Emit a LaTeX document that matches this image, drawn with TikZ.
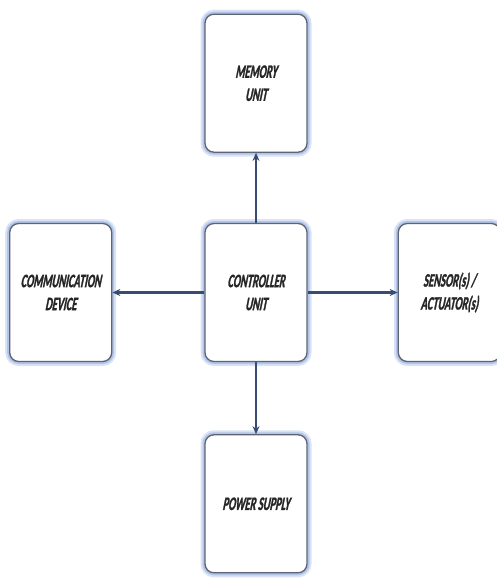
\documentclass[tikz,border=0pt]{standalone}
\usepackage{fontspec}
\newfontfamily\unitfont[FakeStretch=0.55,FakeBold=1.2,FakeSlant=0.2,UprightFont={* Bold}]{Carlito}
\usetikzlibrary{arrows.meta,positioning}

\definecolor{glow}{RGB}{150,175,225}
\definecolor{rim}{RGB}{95,100,115}
\definecolor{link}{RGB}{55,75,115}

\tikzset{
	unit/.style={draw=rim, line width=1.3pt, fill=white, rounded corners=9pt,
		minimum width=102pt, minimum height=138pt, align=center,
		font=\unitfont\fontsize{19}{23}\selectfont, text=black!85,
		preaction={draw=glow, line width=9pt, opacity=0.35},
		preaction={draw=glow, line width=5pt, opacity=0.6}},
	link/.style={draw=link, line width=2.2pt,
		preaction={draw=glow, line width=5pt, opacity=0.5}}
}

\begin{document}
\begin{tikzpicture}[x=1pt,y=1pt,>={Stealth[length=8pt,width=7pt]}]
	\useasboundingbox (0,0) rectangle (497,-581);
	% controller in the middle, the rest around it
	\node[unit] (ctrl) at (256,-292.5) {CONTROLLER\\UNIT};
	\node[unit] [above=70pt of ctrl] (mem) {MEMORY\\UNIT};
	\node[unit] [below=72pt of ctrl] (power) {POWER SUPPLY};
	\node[unit] [left=92pt of ctrl] (comm) {COMMUNICATION\\DEVICE};
	\node[unit] [right=90pt of ctrl] (sens) {SENSOR(s) /\\ACTUATOR(s)};
	\path[link,->]
		(ctrl) edge (mem)
		(ctrl) edge (power)
		(ctrl) edge (comm)
		(ctrl) edge (sens);
\end{tikzpicture}
\end{document}
